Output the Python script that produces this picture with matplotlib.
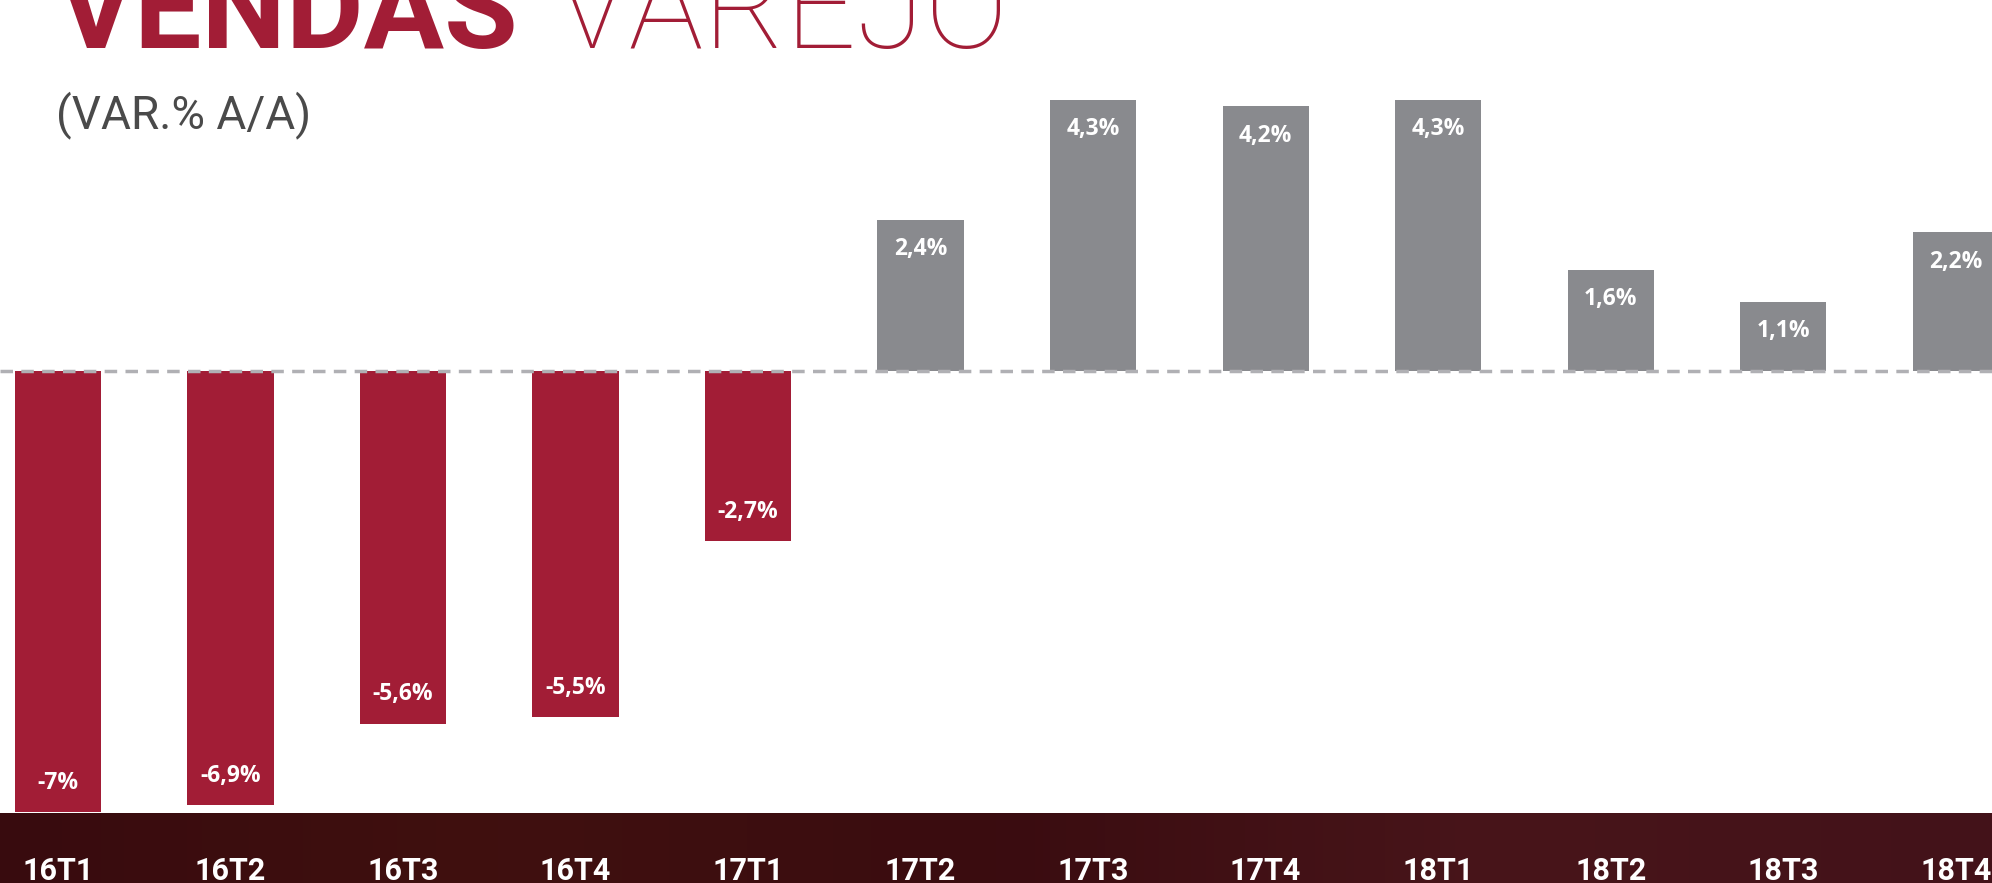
import numpy as np
import matplotlib.pyplot as plt
from matplotlib.colors import LinearSegmentedColormap

# data
quarters = ['16T1', '16T2', '16T3', '16T4', '17T1', '17T2',
            '17T3', '17T4', '18T1', '18T2', '18T3', '18T4']
values = [-7.0, -6.9, -5.6, -5.5, -2.7, 2.4, 4.3, 4.2, 4.3, 1.6, 1.1, 2.2]

RED = '#A21D36'
GRAY = '#898A8E'
W, H = 1992, 883
BAND = 70  # height of the dark strip at the bottom, px


def fmt(v):
    s = f'{v:.1f}'.replace('.', ',')
    if s.endswith(',0'):
        s = s[:-2]
    return s + '%'


fig = plt.figure(figsize=(W / 100, H / 100), dpi=100)
fig.patch.set_facecolor('white')

ax = fig.add_axes([0, BAND / H, 1, 1 - BAND / H])
x = np.arange(len(values))
colors = [RED if v < 0 else GRAY for v in values]
ax.bar(x, values, width=0.5, color=colors, zorder=2)
ax.axhline(0, color='#B0B0B4', linewidth=2.5, dashes=(3.6, 2.4), zorder=3)

for xi, v in zip(x, values):
    off = 21 if v < 0 else -21
    ax.annotate(fmt(v), (xi, v), xytext=(0, off), textcoords='offset points',
                ha='center', va='center', color='white', fontsize=16.5,
                fontweight='bold', family='Open Sans', zorder=4)

ax.set_xlim(-0.336, 11.21)
ax.set_ylim(-7.02, 5.89)
ax.axis('off')

# dark maroon band with the quarter labels
bx = fig.add_axes([0, 0, 1, BAND / H])
cmap = LinearSegmentedColormap.from_list(
    'band', ['#380b0e', '#40100f', '#3a0c10', '#48151a', '#431219'])
grad = np.linspace(0, 1, 256).reshape(1, -1)
bx.imshow(grad, aspect='auto', cmap=cmap, extent=[-0.336, 11.21, 0, 1])
bx.set_xlim(-0.336, 11.21)
bx.set_ylim(0, 1)
bx.axis('off')
for xi, q in zip(x, quarters):
    bx.text(xi, 0.05, q, ha='center', va='baseline', color='white',
            fontsize=22, fontweight='bold', family='Roboto')

# title block
fig.text(57 / W, 1 - 48 / H, 'VENDAS', color=RED, fontsize=86,
         fontweight='bold', family='Roboto', va='baseline', ha='left')
fig.text(555 / W, 1 - 48 / H, 'VAREJO', color=RED, fontsize=90,
         fontweight=100, family='Roboto', va='baseline', ha='left')
fig.text(56 / W, 1 - 128 / H, '(VAR.% A/A)', color='#4a4a4a', fontsize=33,
         family='Roboto', va='baseline', ha='left')

fig.savefig('out.png', dpi=100)
